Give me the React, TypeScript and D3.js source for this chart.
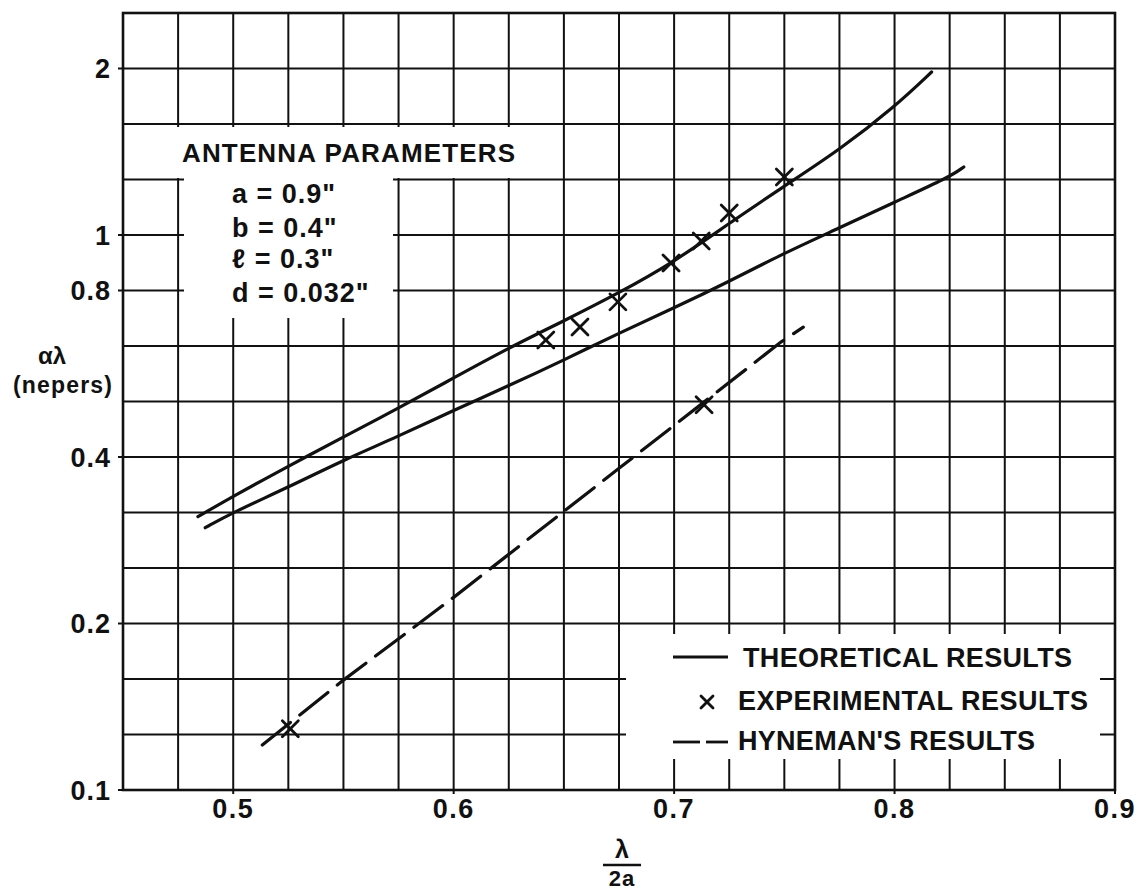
import * as d3 from 'd3';

// ratio grid: each horizontal line is 2^(1/3) above the one below
const Y_MIN = 0.1;
const Y_STEPS = 14;
const X_MIN = 0.45;
const X_MAX = 0.9;
const X_STEP = 0.025;

const X_TICKS = [0.5, 0.6, 0.7, 0.8, 0.9];
const X_TICK_LABELS = ['0.5', '0.6', '0.7', '0.8', '0.9'];
const Y_TICK_STEPS = [0, 3, 6, 9, 10, 13];
const Y_TICK_LABELS = ['0.1', '0.2', '0.4', '0.8', '1', '2'];

// theoretical results, upper curve
const UPPER_X = [0.484, 0.4995, 0.5245, 0.55, 0.575, 0.6, 0.625, 0.65, 0.675, 0.7, 0.7245, 0.75, 0.775, 0.8, 0.8168];
const UPPER_Y = [0.312, 0.339, 0.384, 0.435, 0.49, 0.556, 0.63, 0.705, 0.792, 0.901, 1.055, 1.236, 1.436, 1.718, 1.987];

// theoretical results, lower curve
const LOWER_X = [0.4873, 0.4995, 0.5245, 0.55, 0.575, 0.6, 0.625, 0.65, 0.675, 0.7, 0.7245, 0.75, 0.775, 0.8, 0.825, 0.8314];
const LOWER_Y = [0.298, 0.317, 0.352, 0.395, 0.436, 0.486, 0.538, 0.599, 0.67, 0.744, 0.829, 0.935, 1.038, 1.156, 1.283, 1.338];

// Hyneman's results (dashed)
const HYN_X = [0.5132, 0.55, 0.6, 0.6759, 0.7486, 0.7586];
const HYN_Y = [0.1206, 0.158, 0.223, 0.384, 0.646, 0.687];

// experimental results (x marks)
const EXP_X = [0.6418, 0.6573, 0.6745, 0.6986, 0.7123, 0.725, 0.75, 0.5259, 0.7136];
const EXP_Y = [0.651, 0.687, 0.763, 0.897, 0.983, 1.105, 1.283, 0.129, 0.497];

const LEGEND = ['THEORETICAL RESULTS', 'EXPERIMENTAL RESULTS', "HYNEMAN'S RESULTS"];
const PARAMS = ['a = 0.9"', 'b = 0.4"', 'ℓ = 0.3"', 'd = 0.032"'];

const VW = 1137;
const VH = 895;
const LEFT = 123;
const RIGHT = 1115;
const TOP = 13;
const BOTTOM = 790;

const INK = '#111';
const FONT = "'Liberation Sans', Arial, sans-serif";

const yGrid = d3.range(Y_STEPS + 1).map(k => Y_MIN * Math.pow(2, k / 3));
const xGrid = d3.range(Math.round((X_MAX - X_MIN) / X_STEP) + 1).map(k => X_MIN + k * X_STEP);

const x = d3.scaleLinear().domain([X_MIN, X_MAX]).range([LEFT, RIGHT]);
const y = d3.scaleLog().domain([Y_MIN, yGrid[Y_STEPS]]).range([BOTTOM, TOP]);

const smooth = d3.line<[number, number]>()
  .x(d => x(d[0]))
  .y(d => y(d[1]))
  .curve(d3.curveBasis);

const straight = d3.line<[number, number]>()
  .x(d => x(d[0]))
  .y(d => y(d[1]));

const zip = (xs: number[], ys: number[]) => xs.map((v, i) => [v, ys[i]] as [number, number]);

function Cross({ cx, cy, r }: { cx: number; cy: number; r: number }) {
  return (
    <g stroke={INK} strokeWidth={2.8} strokeLinecap="round">
      <line x1={cx - r} y1={cy - r} x2={cx + r} y2={cy + r} />
      <line x1={cx - r} y1={cy + r} x2={cx + r} y2={cy - r} />
    </g>
  );
}

export default function App() {
  return (
    <svg width={VW} height={VH} viewBox={`0 0 ${VW} ${VH}`}
      style={{ position: 'absolute', left: 0, top: 0, background: '#fff' }}>
      <rect x={0} y={0} width={VW} height={VH} fill="#fff" />

      {/* grid */}
      {xGrid.map((v, i) => (
        <line key={`gx${i}`} x1={x(v)} x2={x(v)} y1={TOP} y2={BOTTOM} stroke={INK} strokeWidth={2} />
      ))}
      {yGrid.map((v, i) => (
        <line key={`gy${i}`} x1={LEFT} x2={RIGHT} y1={y(v)} y2={y(v)} stroke={INK} strokeWidth={2} />
      ))}

      {/* cut-outs for the lettering */}
      <rect x={125} y={127} width={421} height={51} fill="#fff" />
      <rect x={184} y={127} width={209} height={191} fill="#fff" />
      <rect x={626} y={634} width={474} height={125} fill="#fff" />

      {/* frame */}
      <rect x={LEFT} y={TOP} width={RIGHT - LEFT} height={BOTTOM - TOP} fill="none" stroke={INK} strokeWidth={2.6} />

      {/* y ticks */}
      {Y_TICK_STEPS.map((k, i) => (
        <g key={`yt${i}`}>
          <line x1={LEFT - 5} x2={LEFT} y1={y(yGrid[k])} y2={y(yGrid[k])} stroke={INK} strokeWidth={2} />
          <text x={111} y={y(yGrid[k])} dy="0.36em" textAnchor="end"
            fontSize={27} fontWeight={700} fontFamily={FONT} fill={INK} letterSpacing={1}>
            {Y_TICK_LABELS[i]}
          </text>
        </g>
      ))}

      {/* x ticks */}
      {X_TICKS.map((v, i) => (
        <g key={`xt${i}`}>
          <line x1={x(v)} x2={x(v)} y1={BOTTOM} y2={BOTTOM + 4} stroke={INK} strokeWidth={2} />
          <text x={x(v)} y={818} textAnchor="middle"
            fontSize={27} fontWeight={700} fontFamily={FONT} fill={INK} letterSpacing={1.5}>
            {X_TICK_LABELS[i]}
          </text>
        </g>
      ))}

      {/* axis titles */}
      <text x={52} y={364} textAnchor="middle" fontSize={24} fontWeight={700} fontFamily={FONT} fill={INK}>
        αλ
      </text>
      <text x={13} y={393} fontSize={23} fontWeight={700} fontFamily={FONT} fill={INK}
        textLength={99} lengthAdjust="spacing">
        (nepers)
      </text>
      <text x={622} y={858} textAnchor="middle" fontSize={25} fontWeight={700} fontFamily={FONT} fill={INK}>
        λ
      </text>
      <line x1={603} x2={641} y1={865} y2={865} stroke={INK} strokeWidth={2.5} />
      <text x={622} y={886} textAnchor="middle" fontSize={22} fontWeight={700} fontFamily={FONT} fill={INK}
        letterSpacing={1}>
        2a
      </text>

      {/* antenna parameters */}
      <text x={182} y={162} fontSize={26} fontWeight={700} fontFamily={FONT} fill={INK}
        textLength={333} lengthAdjust="spacing">
        ANTENNA PARAMETERS
      </text>
      {PARAMS.map((p, i) => (
        <text key={`p${i}`} x={232} y={[203, 237, 268, 302][i]} fontSize={27} fontWeight={700}
          fontFamily={FONT} fill={INK} letterSpacing={1}>
          {p}
        </text>
      ))}

      {/* curves */}
      <path d={smooth(zip(UPPER_X, UPPER_Y)) ?? ''} fill="none" stroke={INK} strokeWidth={3.2} strokeLinecap="round" />
      <path d={smooth(zip(LOWER_X, LOWER_Y)) ?? ''} fill="none" stroke={INK} strokeWidth={3.2} strokeLinecap="round" />
      <path d={straight(zip(HYN_X, HYN_Y)) ?? ''} fill="none" stroke={INK} strokeWidth={3.2}
        strokeDasharray="36 12" strokeLinecap="round" />

      {EXP_X.map((v, i) => (
        <Cross key={`e${i}`} cx={x(v)} cy={y(EXP_Y[i])} r={8} />
      ))}

      {/* legend */}
      <line x1={673} x2={728} y1={657} y2={657} stroke={INK} strokeWidth={2.8} />
      <Cross cx={707} cy={702} r={6} />
      <line x1={673} x2={700} y1={742} y2={742} stroke={INK} strokeWidth={2.8} />
      <line x1={706} x2={728} y1={742} y2={742} stroke={INK} strokeWidth={2.8} />
      {LEGEND.map((t, i) => (
        <text key={`l${i}`} x={i === 0 ? 743 : 738} y={[667, 710, 750][i]} fontSize={27} fontWeight={700}
          fontFamily={FONT} fill={INK} textLength={[329, 350, 297][i]} lengthAdjust="spacing">
          {t}
        </text>
      ))}
    </svg>
  );
}
